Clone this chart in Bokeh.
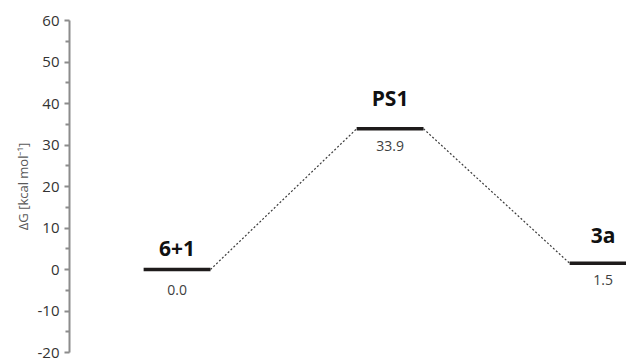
from bokeh.plotting import figure
from bokeh.models import ColumnDataSource, Range1d, FixedTicker
from bokeh.core.properties import value
from bokeh.embed import file_html
from bokeh.resources import INLINE

# Data
states = ["6+1", "PS1", "3a"]
energies = [0.0, 33.9, 1.5]
energy_labels = ["0.0", "33.9", "1.5"]
positions = [0, 1, 2]
y_ticks = [-20, -10, 0, 10, 20, 30, 40, 50, 60]
y_tick_labels = ["-20", "-10", "0", "10", "20", "30", "40", "50", "60"]

# Styles (screen offsets for labels)
half_width = 0.157
name_offsets = [-14, -17, -14]
value_offsets = [15, 12, 12]

p = figure(width=626, height=362, output_backend="svg", toolbar_location=None,
           x_range=Range1d(-0.505, 2.11), y_range=Range1d(-20, 60),
           min_border_left=69, min_border_right=0, min_border_top=20, min_border_bottom=10)
p.outline_line_color = None
p.xgrid.visible = False
p.ygrid.visible = False
p.xaxis.visible = False
p.background_fill_color = "white"

ax = p.yaxis[0]
ax.ticker = FixedTicker(ticks=y_ticks, minor_ticks=[v + 5 for v in y_ticks[:-1]])
ax.major_label_overrides = {t: s for t, s in zip(y_ticks, y_tick_labels)}
ax.axis_line_color = "#8c8c8c"
ax.axis_line_width = 2
ax.major_tick_line_color = "#8c8c8c"
ax.major_tick_line_width = 2
ax.major_tick_out = 5
ax.major_tick_in = 0
ax.minor_tick_line_color = "#8c8c8c"
ax.minor_tick_line_width = 2
ax.minor_tick_out = 4
ax.minor_tick_in = 0
ax.major_label_text_font = "Open Sans"
ax.major_label_text_font_size = "15px"
ax.major_label_text_color = "#333333"
ax.major_label_standoff = 5
ax.axis_label = "\u0394G [kcal mol\u207b\u00b9]"
ax.axis_label_text_font = "Open Sans"
ax.axis_label_text_font_style = "normal"
ax.axis_label_text_font_size = "13px"
ax.axis_label_text_color = "#595959"
ax.axis_label_standoff = 3

# Level bars
bars = ColumnDataSource(dict(
    x0=[x - half_width for x in positions],
    x1=[x + half_width for x in positions],
    y=energies,
))
p.segment(x0="x0", y0="y", x1="x1", y1="y", source=bars, line_color="#1e1b1b", line_width=3.5)

# Dotted connectors
cx0 = [positions[i] + half_width for i in range(len(positions) - 1)]
cx1 = [positions[i + 1] - half_width for i in range(len(positions) - 1)]
cy0 = energies[:-1]
cy1 = energies[1:]
p.segment(x0=cx0, y0=cy0, x1=cx1, y1=cy1, line_color="#3a3a3a", line_width=1.2, line_dash="2 2")

# Labels
for x, y, name, val, no, vo in zip(positions, energies, states, energy_labels, name_offsets, value_offsets):
    p.text(x=[x], y=[y], text=[name], text_font=value("Open Sans"),
           text_font_style="bold", text_font_size="21px", text_color="#111111",
           text_align="center", text_baseline="bottom", y_offset=no)
    p.text(x=[x], y=[y], text=[val], text_font=value("Open Sans"),
           text_font_size="14px", text_color="#404040",
           text_align="center", text_baseline="top", y_offset=vo)

open("out.html", "w").write(file_html(p, INLINE))
